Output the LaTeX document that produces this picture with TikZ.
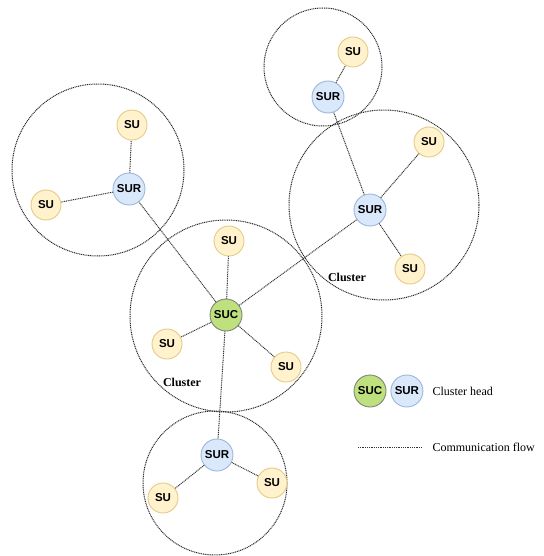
\documentclass[tikz,border=0pt]{standalone}
\usepackage{fontspec}
\setmainfont{Liberation Serif}
\newfontfamily\nodefont{Liberation Sans}
\usetikzlibrary{positioning}
\definecolor{sufill}{HTML}{FFF2CC}
\definecolor{sudraw}{HTML}{E3CB85}
\definecolor{surfill}{HTML}{DAE8FC}
\definecolor{surdraw}{HTML}{9DB5D9}
\definecolor{sucfill}{HTML}{BEE07E}
\definecolor{sucdraw}{HTML}{7E8578}

\begin{document}
\begin{tikzpicture}[x=1pt,y=-1pt,
    su/.style={circle,draw=sudraw,fill=sufill,line width=0.9pt,minimum size=30pt,inner sep=0pt,font=\nodefont\bfseries\fontsize{11.5}{11.5}\selectfont},
    sur/.style={su,draw=surdraw,fill=surfill,minimum size=32pt},
    suc/.style={su,draw=sucdraw,fill=sucfill,minimum size=32pt},
    link/.style={draw=black!80,line width=1pt,dash pattern=on 1pt off 0.8pt},
    cluster/.style={draw=black!85,line width=1pt,dash pattern=on 1pt off 0.8pt},
    txt/.style={font=\fontsize{12}{12}\selectfont}]
  \useasboundingbox (0,0) rectangle (543,556);
  % clusters
  \draw[cluster] (226,316) circle (96);
  \draw[cluster] (98,170) circle (86);
  \draw[cluster] (323,67) circle (59);
  \draw[cluster] (384,205) circle (95);
  \draw[cluster] (215,483) circle (72);
  % nodes
  \node[suc] (suc) at (226,315) {SUC};
  \node[su] (su1) at (229,241) {SU};
  \node[su] (su2) at (167,344) {SU};
  \node[su] (su3) at (286,367) {SU};
  \node[sur] (surl) at (129,189) {SUR};
  \node[su] (su4) at (132,125) {SU};
  \node[su] (su5) at (46,205) {SU};
  \node[sur] (surr) at (370,210) {SUR};
  \node[su] (su6) at (429,142) {SU};
  \node[su] (su7) at (410,269) {SU};
  \node[sur] (surt) at (328,97) {SUR};
  \node[su] (su8) at (353,52) {SU};
  \node[sur] (surb) at (217,455) {SUR};
  \node[su] (su9) at (163,498) {SU};
  \node[su] (su10) at (272,483) {SU};
  \node[txt,font=\fontsize{12}{12}\selectfont\bfseries] (cl1) at (182,382) {Cluster};
  \node[txt,font=\fontsize{12}{12}\selectfont\bfseries] (cl2) at (347,277) {Cluster};
  % links
  \foreach \n in {su1,su2,su3,surl,surr,surb}
    \draw[link] (suc) -- (\n);
  \foreach \n in {su4,su5}
    \draw[link] (surl) -- (\n);
  \foreach \n in {su6,su7,surt}
    \draw[link] (surr) -- (\n);
  \draw[link] (surt) -- (su8);
  \foreach \n in {su9,su10}
    \draw[link] (surb) -- (\n);
  % legend
  \node[suc] (legsuc) at (370,391) {SUC};
  \node[sur,right=4pt of legsuc] (legsur) {SUR};
  \node[txt,anchor=west] (leghead) at (429,391) {Cluster head};
  \coordinate (lega) at (358,447);
  \coordinate (legb) at (422,447);
  \draw[link] (lega) -- (legb);
  \node[txt,anchor=west] (legflow) at (429,447) {Communication flow};
\end{tikzpicture}
\end{document}
